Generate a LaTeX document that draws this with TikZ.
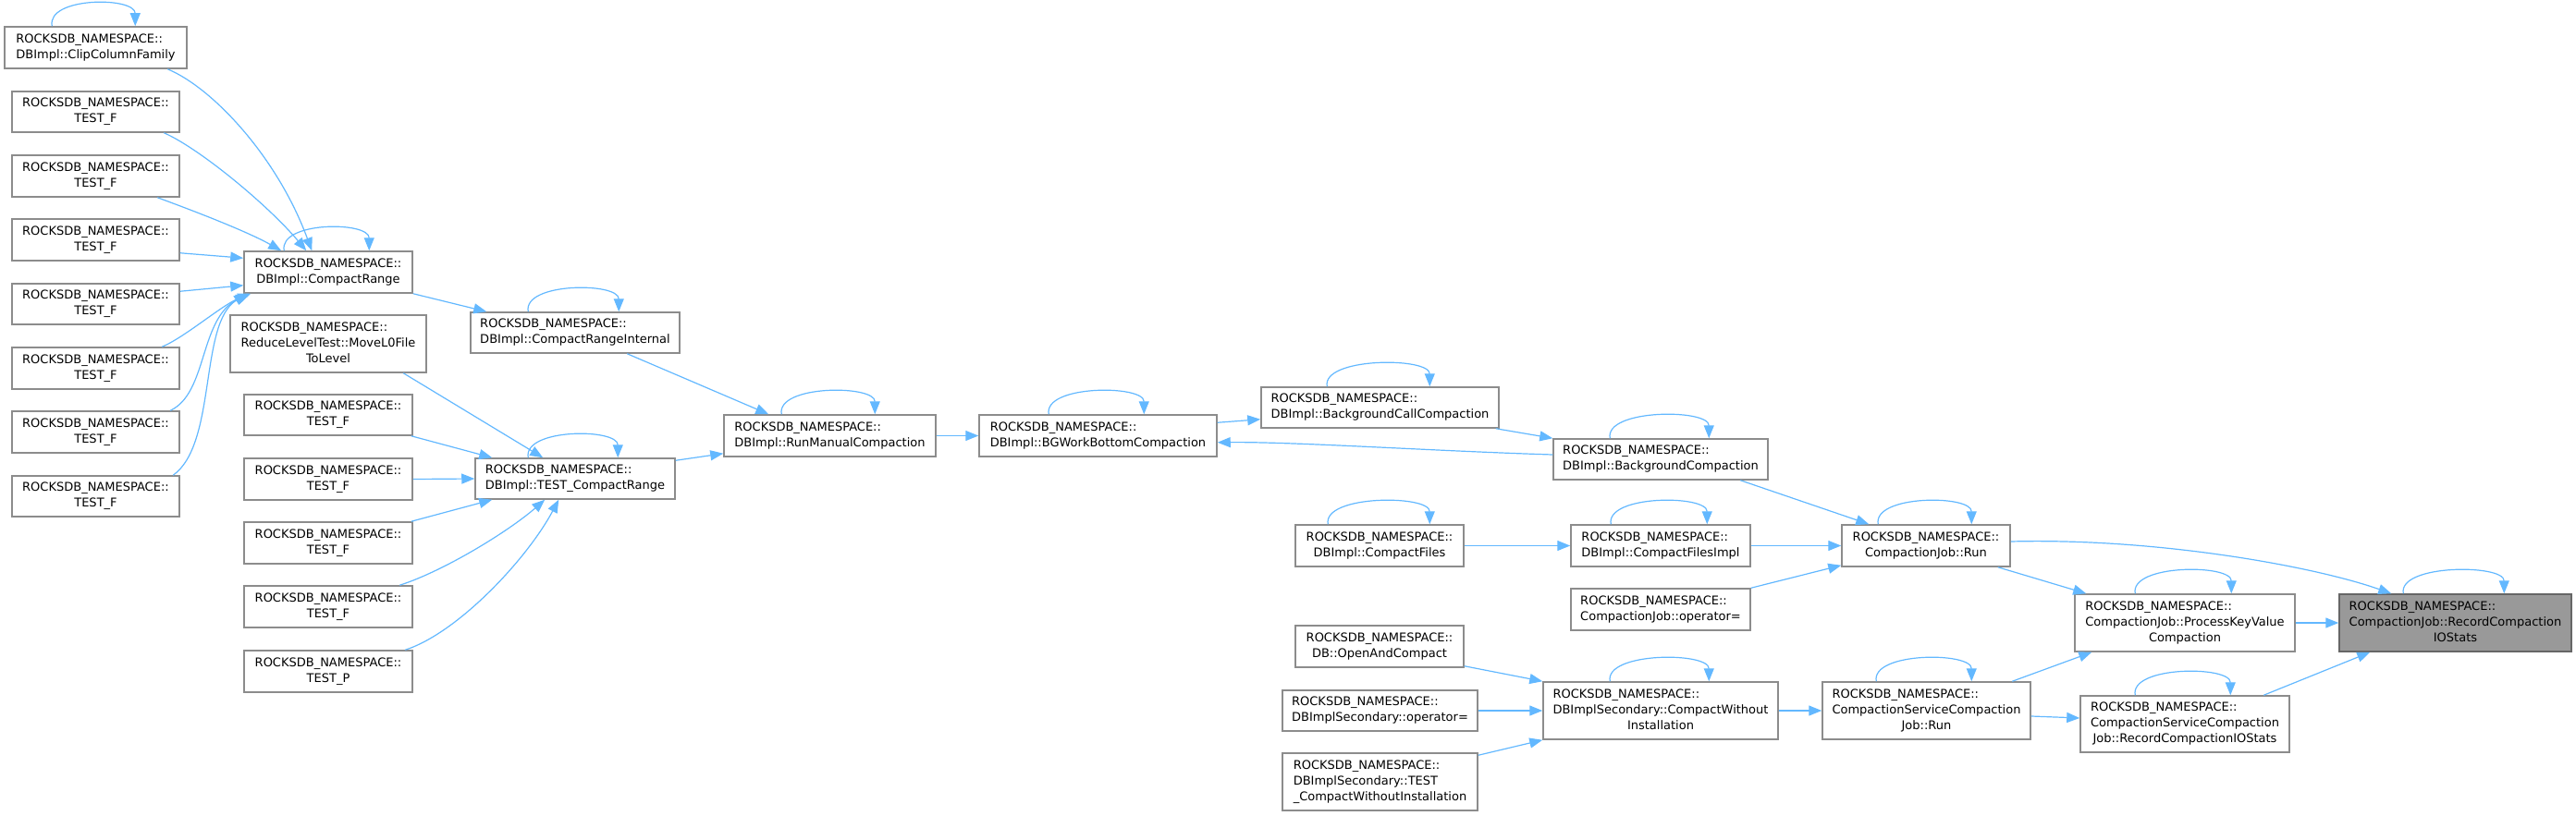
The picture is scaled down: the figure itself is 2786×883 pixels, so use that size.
\documentclass[tikz,border=0pt]{standalone}
\usepackage{fontspec}
\setmainfont{DejaVu Sans}
\usetikzlibrary{arrows.meta,calc}
\definecolor{edgec}{HTML}{63B8FF}
\definecolor{bordc}{HTML}{8C8C8C}
\definecolor{grayfill}{HTML}{999999}
\definecolor{grayb}{HTML}{666666}
\newcommand\lbtwo[2]{\begin{tabular}{@{}l@{}}#1\\\multicolumn{1}{@{}c@{}}{#2}\end{tabular}}
\newcommand\lbthree[3]{\begin{tabular}{@{}l@{}}#1\\#2\\\multicolumn{1}{@{}c@{}}{#3}\end{tabular}}
\newcommand\rns{ROCKSDB\_NAMESPACE::}
\newcommand\mkbox[7][]{\node[fnode,#1,minimum width={(#5-#3)*0.5pt},minimum height={(#6-#4)*0.5pt}] (#2) at ({(#3+#5)/2},{(#4+#6)/2}) {#7};}
\newcommand\sloop[3]{\draw[cedge] ($(#1.north west)+(#2,0)$) .. controls +(-6,-32) and +(0,-32) .. ($(#1.north west)+(#3,0)$);}
\tikzset{
  fnode/.style={draw=bordc, line width=0.75pt, fill=white, inner xsep=0pt, inner ysep=0pt,
    font=\fontsize{6.5}{8.5}\selectfont, text=black},
  focus/.style={fill=grayfill, draw=grayb},
  cedge/.style={draw=edgec, line width=0.6pt, -{Triangle[length=7pt,width=5.5pt]}, fill=none}
}
\begin{document}
\begin{tikzpicture}[x=0.5pt,y=-0.5pt]
\useasboundingbox (0,0) rectangle (2786,883);
% column 1
\mkbox{clip}{5}{29}{202}{74}{\lbtwo{\rns}{DBImpl::ClipColumnFamily}}
\mkbox{tfa}{13}{99}{194}{143}{\lbtwo{\rns}{TEST\_F}}
\mkbox{tfb}{13}{168}{194}{213}{\lbtwo{\rns}{TEST\_F}}
\mkbox{tfc}{13}{237}{194}{282}{\lbtwo{\rns}{TEST\_F}}
\mkbox{tfd}{13}{307}{194}{351}{\lbtwo{\rns}{TEST\_F}}
\mkbox{tfe}{13}{376}{194}{421}{\lbtwo{\rns}{TEST\_F}}
\mkbox{tff}{13}{445}{194}{490}{\lbtwo{\rns}{TEST\_F}}
\mkbox{tfg}{13}{515}{194}{559}{\lbtwo{\rns}{TEST\_F}}
% column 2
\mkbox{cr}{264}{272}{446}{317}{\lbtwo{\rns}{DBImpl::CompactRange}}
\mkbox{mlz}{249}{341}{461}{403}{\lbthree{\rns}{ReduceLevelTest::MoveL0File}{ToLevel}}
\mkbox{tga}{264}{427}{446}{471}{\lbtwo{\rns}{TEST\_F}}
\mkbox{tgb}{264}{496}{446}{541}{\lbtwo{\rns}{TEST\_F}}
\mkbox{tgc}{264}{565}{446}{610}{\lbtwo{\rns}{TEST\_F}}
\mkbox{tgd}{264}{634}{446}{679}{\lbtwo{\rns}{TEST\_F}}
\mkbox{tp}{264}{704}{446}{749}{\lbtwo{\rns}{TEST\_P}}
% column 3
\mkbox{cri}{509}{338}{735}{382}{\lbtwo{\rns}{DBImpl::CompactRangeInternal}}
\mkbox{tcr}{514}{496}{730}{540}{\lbtwo{\rns}{DBImpl::TEST\_CompactRange}}
% columns 4-5
\mkbox{rmc}{783}{449}{1012}{494}{\lbtwo{\rns}{DBImpl::RunManualCompaction}}
\mkbox{bgwb}{1059}{449}{1316}{494}{\lbtwo{\rns}{DBImpl::BGWorkBottomCompaction}}
% column 6
\mkbox{bcc}{1364}{419}{1621}{463}{\lbtwo{\rns}{DBImpl::BackgroundCallCompaction}}
\mkbox{cf}{1401}{568}{1583}{613}{\lbtwo{\rns}{DBImpl::CompactFiles}}
\mkbox{oac}{1401}{677}{1583}{722}{\lbtwo{\rns}{DB::OpenAndCompact}}
\mkbox{dso}{1387}{747}{1598}{791}{\lbtwo{\rns}{DBImplSecondary::operator=}}
\mkbox{tcwi}{1387}{815}{1598}{877}{\lbthree{\rns}{DBImplSecondary::TEST}{\_CompactWithoutInstallation}}
% column 7
\mkbox{bc}{1680}{475}{1912}{519}{\lbtwo{\rns}{DBImpl::BackgroundCompaction}}
\mkbox{cfi}{1699}{568}{1893}{613}{\lbtwo{\rns}{DBImpl::CompactFilesImpl}}
\mkbox{cjop}{1699}{637}{1893}{682}{\lbtwo{\rns}{CompactionJob::operator=}}
\mkbox{cwi}{1669}{738}{1923}{800}{\lbthree{\rns}{DBImplSecondary::CompactWithout}{Installation}}
% column 8
\mkbox{cjr}{1992}{568}{2174}{613}{\lbtwo{\rns}{CompactionJob::Run}}
\mkbox{cscjr}{1971}{738}{2196}{800}{\lbthree{\rns}{CompactionServiceCompaction}{Job::Run}}
% column 9
\mkbox{pkv}{2244}{643}{2482}{705}{\lbthree{\rns}{CompactionJob::ProcessKeyValue}{Compaction}}
\mkbox{cscjrec}{2250}{753}{2476}{814}{\lbthree{\rns}{CompactionServiceCompaction}{Job::RecordCompactionIOStats}}
% column 10
\mkbox[focus]{rec}{2530}{643}{2781}{705}{\lbthree{\rns}{CompactionJob::RecordCompaction}{IOStats}}

% self loops
\sloop{clip}{52}{142}
\sloop{cr}{44}{136}
\sloop{cri}{63}{161}
\sloop{tcr}{58}{155}
\sloop{rmc}{63}{164}
\sloop{bgwb}{76}{179}
\sloop{bcc}{72}{183}
\sloop{bc}{62}{169}
\sloop{cf}{36}{146}
\sloop{cfi}{44}{148}
\sloop{cjr}{40}{141}
\sloop{pkv}{66}{170}
\sloop{rec}{70}{179}
\sloop{cwi}{73}{180}
\sloop{cscjr}{59}{162}
\sloop{cscjrec}{60}{163}

% edges into CompactRange
\draw[cedge] ($(clip.south west)+(177,0)$) .. controls (230,95) and (300,170) .. ($(cr.north west)+(74,0)$);
\draw[cedge] ($(tfa.south west)+(165,0)$) .. controls (215,160) and (290,222) .. ($(cr.north west)+(68,0)$);
\draw[cedge] ($(tfb.south west)+(158,0)$) .. controls (220,232) and (270,252) .. ($(cr.north west)+(41,0)$);
\draw[cedge] ($(tfc.south east)+(0,-9)$) -- ($(cr.north west)+(0,8)$);
\draw[cedge] ($(tfd.north east)+(0,9)$) -- ($(cr.south west)+(0,-9)$);
\draw[cedge] ($(tfe.north west)+(163,0)$) .. controls (200,365) and (240,330) .. ($(cr.south west)+(8,0)$);
\draw[cedge] ($(tff.north west)+(172,0)$) .. controls (225,425) and (215,345) .. ($(cr.south west)+(6,0)$);
\draw[cedge] ($(tfg.north west)+(175,0)$) .. controls (235,480) and (215,350) .. ($(cr.south west)+(4,0)$);
% CompactRange chain
\draw[cedge] (cr.south east) -- ($(cri.north west)+(18,0)$);
\draw[cedge] ($(cri.south west)+(170,0)$) -- ($(rmc.north west)+(49,0)$);
% edges into TEST_CompactRange
\draw[cedge] ($(mlz.south west)+(188,0)$) -- ($(tcr.north west)+(74,0)$);
\draw[cedge] ($(tga.south east)+(-2,0)$) -- ($(tcr.north west)+(19,0)$);
\draw[cedge] (tgb.east) -- (tcr.west);
\draw[cedge] ($(tgc.north east)+(-2,0)$) -- ($(tcr.south west)+(19,0)$);
\draw[cedge] ($(tgd.north west)+(169,0)$) .. controls (480,618) and (550,575) .. ($(tcr.south west)+(76,0)$);
\draw[cedge] ($(tp.north west)+(175,0)$) .. controls (495,685) and (570,605) .. ($(tcr.south west)+(91,0)$);
\draw[cedge] ($(tcr.north east)+(0,3)$) -- ($(rmc.south west)+(0,-4)$);
% middle chain
\draw[cedge] (rmc.east) -- (bgwb.west);
\draw[cedge] ($(bgwb.north east)+(0,9)$) -- ($(bcc.south west)+(0,-10)$);
\draw[cedge] ($(bcc.south east)+(-4,0)$) -- (bc.north west);
\draw[cedge] ($(bc.west)+(0,-5)$) .. controls (1550,488) and (1400,478) .. ($(bgwb.south east)+(0,-16)$);
\draw[cedge] ($(bc.south west)+(203,0)$) -- ($(cjr.north west)+(30,0)$);
\draw[cedge] (cf.east) -- (cfi.west);
\draw[cedge] (cfi.east) -- (cjr.west);
\draw[cedge] (cjop.north east) -- ($(cjr.south west)+(0,-2)$);
\draw[cedge] ($(cjr.east)+(0,-4.5)$) .. controls (2330,582) and (2500,612) .. ($(rec.north west)+(57,0)$);
\draw[cedge] ($(cjr.south east)+(-14,0)$) -- ($(pkv.north west)+(13,0)$);
% secondary chain
\draw[cedge] ($(oac.south east)+(0,-2)$) -- (cwi.north west);
\draw[cedge] (dso.east) -- (cwi.west);
\draw[cedge] ($(tcwi.north east)+(0,3)$) -- (cwi.south west);
\draw[cedge] (cwi.east) -- (cscjr.west);
\draw[cedge] ($(cscjr.north west)+(206,0)$) -- ($(pkv.south west)+(19,0)$);
\draw[cedge] ($(cscjr.east)+(0,6)$) -- ($(cscjrec.west)+(0,-6.5)$);
\draw[cedge] (pkv.east) -- (rec.west);
\draw[cedge] ($(cscjrec.north west)+(199,0)$) -- ($(rec.south west)+(34,0)$);
\end{tikzpicture}
\end{document}
